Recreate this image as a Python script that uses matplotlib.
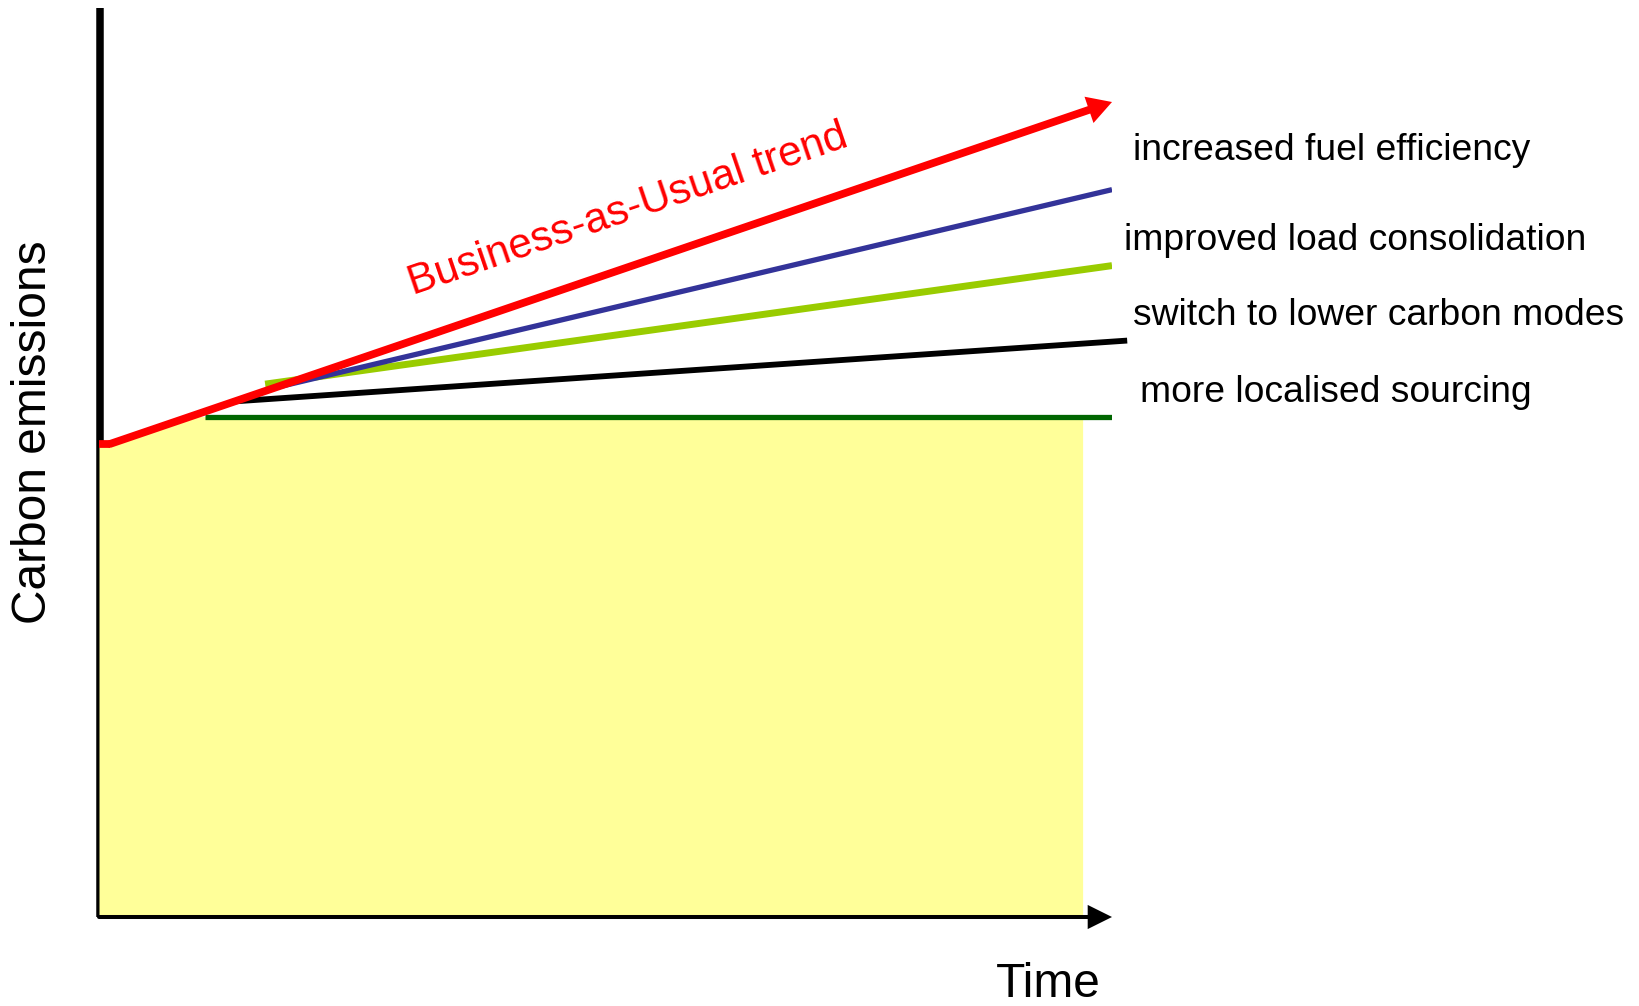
import numpy as np
import matplotlib
matplotlib.use("Agg")
import matplotlib.pyplot as plt

plt.rcParams["font.family"] = ["Liberation Sans", "DejaVu Sans"]

# Time runs 0..100, emissions share the same unit size so the arrows stay square
T_MAX = 100.0
E_MAX = 89.73

# Business-as-usual trend (flat start, then steady growth)
bau_t = [0.0, 1.1, 100.0]
bau_e = [46.7, 46.7, 80.45]

# Reduction measures: start point on the trend, end point on the right
fuel_t = [17.6, 100.0]
fuel_e = [52.3, 71.8]

load_t = [16.4, 100.0]
load_e = [52.6, 64.3]

modes_t = [13.4, 101.5]
modes_e = [50.9, 56.9]

local_t = [10.5, 100.0]
local_e = [49.4, 49.4]

area_end = 97.1

labels = [
    "increased fuel efficiency",
    "improved load consolidation",
    "switch to lower carbon modes",
    "more localised sourcing",
]

fig = plt.figure(figsize=(16.4, 10.06), dpi=100)
ax = fig.add_axes([99 / 1640, 89 / 1006, 1013 / 1640, 909 / 1006])
ax.set_xlim(0, T_MAX)
ax.set_ylim(0, E_MAX)
ax.axis("off")

# y axis
ax.plot([0.05, 0.05], [0, E_MAX], color="black", lw=5.4,
        solid_capstyle="butt", zorder=1, clip_on=False)

# emissions area under the localised-sourcing level
tt = np.linspace(0, area_end, 400)
upper = np.minimum(np.interp(tt, bau_t, bau_e), local_e[0])
ax.fill_between(tt, 0, upper, color="#FFFF99", lw=0, zorder=2)

# x axis with arrow head
ax.annotate("", xy=(T_MAX, 0), xytext=(0, 0),
            arrowprops=dict(arrowstyle="-", lw=2.9, color="black",
                            shrinkA=0, shrinkB=14),
            zorder=3, annotation_clip=False)
ax.annotate("", xy=(T_MAX, 0), xytext=(T_MAX - 5, 0),
            arrowprops=dict(arrowstyle="-|>,head_length=1.75,head_width=0.87",
                            lw=0, color="black", shrinkA=0, shrinkB=0),
            zorder=3, annotation_clip=False)

# measure lines
ax.plot(local_t, local_e, color="#006600", lw=3.8, solid_capstyle="butt", zorder=4)
ax.plot(modes_t, modes_e, color="black", lw=4.2, solid_capstyle="butt", zorder=4, clip_on=False)
ax.plot(load_t, load_e, color="#99CC00", lw=5.0, solid_capstyle="butt", zorder=4)
ax.plot(fuel_t, fuel_e, color="#333399", lw=3.8, solid_capstyle="butt", zorder=4)

# business-as-usual trend with arrow
ax.plot(bau_t[:2], bau_e[:2], color="red", lw=5.6, solid_capstyle="butt", zorder=5)
ax.annotate("", xy=(bau_t[2], bau_e[2]), xytext=(bau_t[1], bau_e[1]),
            arrowprops=dict(arrowstyle="-", lw=5.6, color="red",
                            shrinkA=0, shrinkB=14),
            zorder=5, annotation_clip=False)
ax.annotate("", xy=(bau_t[2], bau_e[2]), xytext=(bau_t[1], bau_e[1]),
            arrowprops=dict(arrowstyle="-|>,head_length=1.75,head_width=1.0",
                            lw=0, color="red", shrinkA=0, shrinkB=0),
            zorder=5, annotation_clip=False)

angle = np.degrees(np.arctan2(bau_e[2] - bau_e[1], bau_t[2] - bau_t[1]))
ax.text(31.0, 61.4, "Business-as-Usual trend", color="red", fontsize=30.5,
        rotation=angle, rotation_mode="anchor", ha="left", va="baseline")

# measure labels
label_pos = [(102.1, 74.7), (101.2, 65.8), (102.1, 58.4), (102.8, 50.8)]
for (x, y), txt in zip(label_pos, labels):
    ax.text(x, y, txt, fontsize=26.8, ha="left", va="baseline", clip_on=False)

ax.text(-6.5, 47.9, "Carbon emissions", fontsize=34.5, rotation=90,
        ha="center", va="center")
ax.text(98.9, -7.9, "Time", fontsize=34.5, ha="right", va="baseline")

fig.savefig("out.png", dpi=100, facecolor="white")
